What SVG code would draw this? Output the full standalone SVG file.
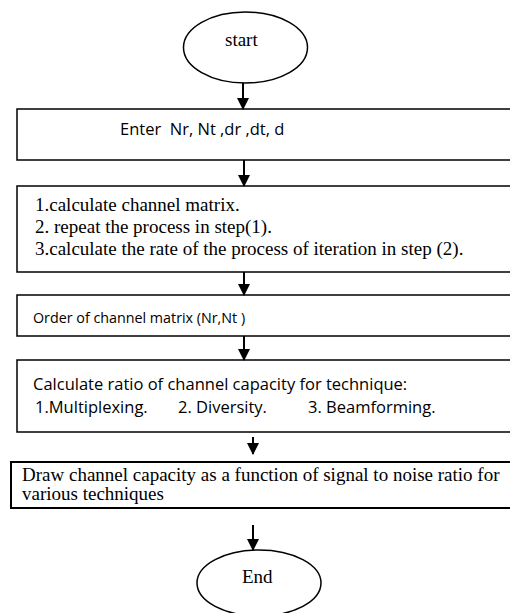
<svg xmlns="http://www.w3.org/2000/svg" width="510" height="613" viewBox="0 0 510 613">
<defs>
<marker id="ah" markerWidth="12" markerHeight="12" refX="11" refY="6" orient="auto" markerUnits="userSpaceOnUse">
<path d="M0,0 L12,6 L0,12 Z" fill="#000"/>
</marker>
<style>
.box{fill:#fff;stroke:#000;stroke-width:1.5}
.ell{fill:#fff;stroke:#000;stroke-width:1.5}
.ser{font-family:"Liberation Serif","Times New Roman",serif;font-size:19px;fill:#000}
.san{font-family:"Open Sans","Liberation Sans",sans-serif;font-size:16.5px;fill:#000}
.small{font-size:14.3px}
.conn line{stroke:#000;stroke-width:2;marker-end:url(#ah)}
</style>
</defs>
<rect width="510" height="613" fill="#fff"/>
<g id="start">
<ellipse class="ell" cx="245.5" cy="47.5" rx="62" ry="35.5"/>
<text class="ser" x="225" y="46">start</text>
</g>
<g id="input">
<rect class="box" x="17" y="109" width="510" height="51"/>
<text class="san" x="120" y="135" xml:space="preserve">Enter  Nr, Nt ,dr ,dt, d</text>
</g>
<g id="steps">
<rect class="box" x="17" y="186" width="510" height="86"/>
<text class="ser" x="35" y="211">1.calculate channel matrix.</text>
<text class="ser" x="35" y="233">2. repeat the process in step(1).</text>
<text class="ser" x="35" y="255">3.calculate the rate of the process of iteration in step (2).</text>
</g>
<g id="order">
<rect class="box" x="17" y="295" width="510" height="41"/>
<text class="san small" x="33" y="323">Order of channel matrix (Nr,Nt )</text>
</g>
<g id="ratio">
<rect class="box" x="17" y="360" width="510" height="72"/>
<text class="san" x="33" y="390">Calculate ratio of channel capacity for technique:</text>
<text class="san" x="35" y="413">1.Multiplexing.</text>
<text class="san" x="178" y="413">2. Diversity.</text>
<text class="san" x="308" y="413">3. Beamforming.</text>
</g>
<g id="draw">
<rect x="11" y="462" width="510" height="46" fill="#fff" stroke="#000" stroke-width="2"/>
<text class="ser" x="22" y="481">Draw channel capacity as a function of signal to noise ratio for</text>
<text class="ser" x="22" y="500">various techniques</text>
</g>
<g id="end">
<ellipse class="ell" cx="259" cy="583" rx="62" ry="33"/>
<text class="ser" x="242" y="583">End</text>
</g>
<g class="conn" id="connectors">
<line x1="243" y1="83" x2="243" y2="109"/>
<line x1="244" y1="160" x2="244" y2="186"/>
<line x1="244" y1="272" x2="244" y2="295"/>
<line x1="244" y1="336" x2="244" y2="360"/>
<line x1="253" y1="437" x2="253" y2="454"/>
<line x1="253" y1="525" x2="253" y2="550"/>
</g>
</svg>
